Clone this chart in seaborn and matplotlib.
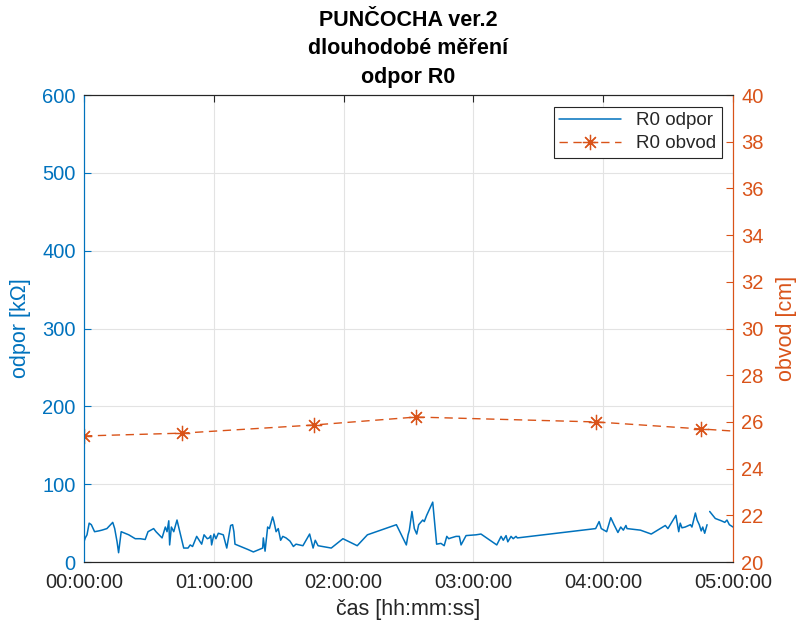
import numpy as np
import pandas as pd
import matplotlib
matplotlib.use("Agg")
import matplotlib.pyplot as plt
from matplotlib.ticker import FuncFormatter, MultipleLocator
from matplotlib.lines import Line2D
import seaborn as sns

# --- data -------------------------------------------------------------
# resistance of R0 over time (minutes from start)
odpor_t = [
    0, 0.6, 1.4, 2.4, 3.4, 4.9, 6.8, 8.3, 10.6, 13.3,
    14.2, 15.3, 16.0, 17.2, 20.7, 23.7, 26.0, 28.3, 29.6, 32.2,
    33.3, 36.1, 37.6, 38.4, 39.2, 39.6, 40.4, 41.5, 43.0, 46.1,
    48.1, 49.1, 50.2, 52.1, 54.4, 55.5, 57.0, 57.9, 58.6, 59.0,
    60.1, 61.0, 62.1, 64.4, 66.0, 67.8, 68.7, 69.3, 69.8, 75.9,
    78.3, 82.6, 82.9, 83.7, 84.9, 85.7, 87.2, 87.8, 88.8, 89.8,
    90.9, 91.9, 93.4, 95.2, 96.8, 98.0, 99.5, 101.2, 104.3, 105.9,
    106.9, 108.2, 114.3, 119.7, 126.3, 131.0, 144.4, 149.0, 149.8, 150.4,
    151.6, 152.7, 153.8, 154.7, 156.6, 157.3, 158.4, 161.2, 163.0, 165.0,
    166.5, 167.7, 168.6, 169.6, 172.0, 173.5, 174.3, 176.6, 181.2, 183.5,
    190.8, 192.8, 193.8, 195.1, 195.9, 197.4, 198.4, 199.7, 200.3, 236.5,
    238.1, 239.1, 241.6, 243.5, 245.0, 246.8, 248.1, 249.3, 250.5, 251.0,
    257.2, 262.2, 268.7, 269.9, 273.6, 274.9, 275.6, 276.4, 277.9, 280.3,
    281.0, 282.6, 283.4, 284.4, 285.3, 286.0, 286.9, 288.0, 288.6, 289.2,
    291.8, 294.6, 296.2, 297.2, 298.3, 300.0,
]
odpor_k = [
    26, 31, 35, 50, 48, 39, 40, 41, 43, 51,
    43, 26, 12, 39, 35, 30, 30, 29, 39, 43,
    39, 31, 45, 39, 53, 22, 45, 39, 54, 18,
    18, 22, 20, 33, 23, 35, 30, 31, 34, 22,
    36, 30, 37, 35, 18, 47, 48, 39, 23, 16,
    13, 18, 31, 14, 45, 43, 58, 52, 39, 43,
    28, 33, 31, 27, 20, 23, 22, 21, 36, 18,
    28, 21, 18, 30, 21, 35, 48, 22, 35, 41,
    65, 43, 36, 48, 54, 52, 60, 77, 23, 24,
    21, 33, 30, 31, 33, 33, 22, 34, 35, 36,
    22, 33, 28, 34, 26, 33, 30, 33, 31, 43,
    52, 43, 39, 57, 48, 38, 45, 41, 47, 43,
    41, 36, 47, 43, 60, 39, 50, 44, 45, 48,
    45, 63, 54, 48, 40, 45, 37, 48, np.nan, 65,
    56, 53, 51, 54, 48, 45,
]

# circumference measurements (minutes from start, cm)
obvod_t = [0, 45.3, 106.3, 153.5, 236.7, 285.2, 318.0]
obvod_cm = [25.40, 25.52, 25.87, 26.21, 26.00, 25.70, 25.50]

series_labels = ["R0 odpor", "R0 obvod"]
x_ticks = [0, 60, 120, 180, 240, 300]

# --- styling ----------------------------------------------------------
BLUE = "#0072BD"
ORANGE = "#D95319"
DARK = "#262626"

sns.set_style("white")
plt.rcParams["font.family"] = ["Liberation Sans", "DejaVu Sans"]

# split the resistance record at missing samples so the gap stays open
df_r = pd.DataFrame({"t": odpor_t, "r": odpor_k})
df_r["seg"] = df_r["r"].isna().cumsum()
df_r = df_r.dropna()
df_o = pd.DataFrame({"t": obvod_t, "c": obvod_cm})

fig = plt.figure(figsize=(8.02, 6.28), dpi=100)
ax = fig.add_axes([0.1047, 0.105, 0.8093, 0.7437])

sns.lineplot(data=df_r, x="t", y="r", units="seg", estimator=None,
             color=BLUE, linewidth=1.1, ax=ax, legend=False)

ax2 = ax.twinx()
asterisk = (8, 2, 0)
sns.lineplot(data=df_o, x="t", y="c", color=ORANGE, linewidth=1.0,
             linestyle=(0, (6, 4)), marker=asterisk, markersize=11,
             markeredgecolor=ORANGE, markeredgewidth=0.9,
             ax=ax2, legend=False)

# axes limits and ticks
ax.set_xlim(0, 300)
ax.set_ylim(0, 600)
ax2.set_ylim(20, 40)
ax.set_xticks(x_ticks)
ax.xaxis.set_major_formatter(
    FuncFormatter(lambda v, _: f"{int(v // 60):02d}:{int(v % 60):02d}:00"))
ax.yaxis.set_major_locator(MultipleLocator(100))
ax2.yaxis.set_major_locator(MultipleLocator(2))

ax.grid(True, color="#E3E3E3", linewidth=0.8)
ax.set_axisbelow(True)

ax.tick_params(axis="x", direction="in", length=5, width=0.8, colors=DARK,
               labelsize=14.5, top=True, pad=8)
ax.tick_params(axis="y", direction="in", length=5, width=0.8, colors=BLUE,
               labelsize=14.5, pad=6)
ax2.tick_params(axis="y", direction="in", length=5, width=0.8, colors=ORANGE,
                labelsize=14.5, pad=6)

for a in (ax, ax2):
    for s in a.spines.values():
        s.set_linewidth(0.8)
    a.spines["top"].set_color(DARK)
    a.spines["bottom"].set_color(DARK)
    a.spines["left"].set_color(BLUE)
    a.spines["right"].set_color(ORANGE)

ax.set_xlabel("čas [hh:mm:ss]", fontsize=15.5, color=DARK, labelpad=5)
ax.set_ylabel("odpor [kΩ]", fontsize=15.5, color=BLUE, labelpad=8)
ax2.set_ylabel("obvod [cm]", fontsize=15.5, color=ORANGE, labelpad=9)

ax.set_title("PUNČOCHA ver.2\ndlouhodobé měření\nodpor R0",
             fontsize=15.5, fontweight="bold", color="black",
             linespacing=1.45, pad=9)

handles = [
    Line2D([], [], color=BLUE, linewidth=1.1),
    Line2D([], [], color=ORANGE, linewidth=1.0, linestyle=(0, (6, 4)),
           marker=asterisk, markersize=11, markeredgecolor=ORANGE,
           markeredgewidth=0.9),
]
leg = ax2.legend(handles, series_labels, loc="upper right",
                 bbox_to_anchor=(0.983, 0.975), fontsize=13.5,
                 frameon=True, fancybox=False, framealpha=1,
                 edgecolor=DARK, borderaxespad=0, handlelength=3.3,
                 borderpad=0.3, labelspacing=0.3, handletextpad=0.8)
leg.get_frame().set_linewidth(0.8)

fig.savefig("out.png", dpi=100)
